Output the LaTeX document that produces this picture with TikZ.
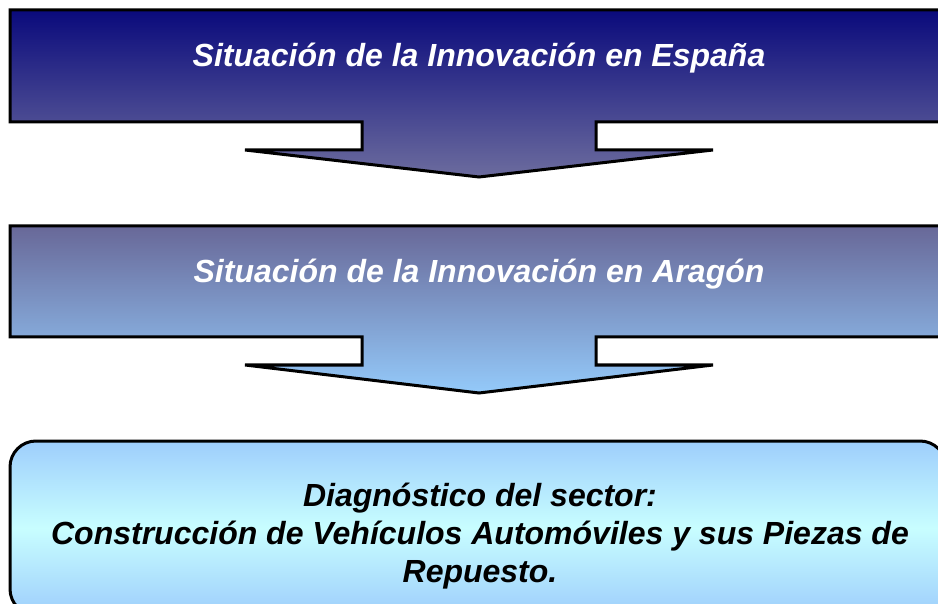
\documentclass[tikz,border=0pt]{standalone}
\usepackage{fontspec}
\setmainfont{Liberation Sans}
\definecolor{navyA}{HTML}{0A0A7C}
\definecolor{navyB}{HTML}{6C6C9E}
\definecolor{midA}{HTML}{686898}
\definecolor{midB}{HTML}{94CAFA}
\definecolor{lightA}{HTML}{9ECEFC}
\definecolor{lightM}{HTML}{C8FEFF}
\tikzset{
  arrowbox/.style={draw=black, line width=3pt, line join=miter},
  boxtext/.style={font=\fontsize{32}{38}\selectfont\bfseries\itshape, align=center, inner sep=0pt},
}
\begin{document}
\begin{tikzpicture}[x=1pt,y=-1pt]
\clip (0,0) rectangle (938,604);
\fill[white] (0,0) rectangle (938,604);
% arrow 1
\shadedraw[arrowbox, top color=navyA, bottom color=navyB]
  (10,10) -- (960,10) -- (960,122) -- (596,122) -- (596,150) -- (713,150)
  -- (479,177) -- (245,150) -- (362,150) -- (362,122) -- (10,122) -- cycle;
\node[boxtext, text=white] (t1) at (479,58) {Situación de la Innovación en España};
% arrow 2
\shadedraw[arrowbox, top color=midA, bottom color=midB]
  (10,226) -- (960,226) -- (960,337) -- (596,337) -- (596,365) -- (713,365)
  -- (479,393) -- (245,365) -- (362,365) -- (362,337) -- (10,337) -- cycle;
\node[boxtext, text=white] (t2) at (479,274) {Situación de la Innovación en Aragón};
% box 3
\shadedraw[draw=black, line width=3pt, rounded corners=26pt, top color=lightA, bottom color=lightA, middle color=lightM]
  (10,441) rectangle (946,615);
\node[boxtext, text=black] (t3) at (480,536) {Diagnóstico del sector:\\Construcción de Vehículos Automóviles y sus Piezas de\\Repuesto.};
\end{tikzpicture}
\end{document}
